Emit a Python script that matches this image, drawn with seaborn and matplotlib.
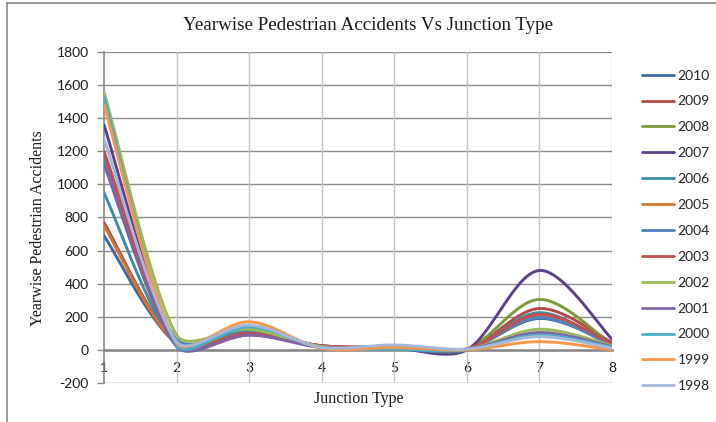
import numpy as np
import pandas as pd
import matplotlib
matplotlib.use("Agg")
import matplotlib.pyplot as plt
from matplotlib.lines import Line2D
import seaborn as sns

# Junction types on the category axis
junction_types = [1, 2, 3, 4, 5, 6, 7, 8]

# Pedestrian accidents per junction type, one list per year
years = ["2010", "2009", "2008", "2007", "2006", "2005", "2004",
         "2003", "2002", "2001", "2000", "1999", "1998"]
acc_2010 = [690, 40, 100, 20, 15, 5, 190, 35]
acc_2009 = [770, 45, 110, 25, 20, 5, 250, 45]
acc_2008 = [1160, 55, 120, 20, 15, 5, 305, 30]
acc_2007 = [1360, 30, 90, 25, 10, 0, 480, 65]
acc_2006 = [950, 30, 130, 20, 10, 0, 225, 20]
acc_2005 = [750, 40, 110, 15, 20, 5, 200, 25]
acc_2004 = [1150, 65, 115, 20, 20, 5, 195, 30]
acc_2003 = [1200, 40, 100, 25, 15, 5, 215, 40]
acc_2002 = [1560, 90, 125, 20, 20, 5, 125, 25]
acc_2001 = [1120, 20, 90, 15, 20, 5, 105, 20]
acc_2000 = [1525, 30, 140, 15, 5, 0, 90, 15]
acc_1999 = [1480, 45, 170, 10, 15, 0, 50, 0]
acc_1998 = [1275, 50, 150, 15, 30, 5, 80, 10]
series = [acc_2010, acc_2009, acc_2008, acc_2007, acc_2006, acc_2005, acc_2004,
          acc_2003, acc_2002, acc_2001, acc_2000, acc_1999, acc_1998]

colors = ["#3C68A3", "#B24A47", "#7A9A3A", "#5C4088", "#3A8EA8", "#D4772E",
          "#4F81BD", "#C0504D", "#9BBB59", "#8064A2", "#4BACC6", "#F79646",
          "#A5B8DA"]

y_ticks = [-200, 0, 200, 400, 600, 800, 1000, 1200, 1400, 1600, 1800]

# screen scale of one data unit (px) used for the smoothing weights
PX_PER_X = 508 / 7
PX_PER_Y = 331 / 2000


def smooth_curve(xs, ys, steps=30):
    """Bezier smoothing through every point; tangents shortened next to short chords."""
    pts = np.column_stack([xs, ys]).astype(float)
    scr = pts * np.array([PX_PER_X, PX_PER_Y])
    n = len(pts)
    out = []
    t = np.linspace(0, 1, steps)[:, None]
    for i in range(n - 1):
        a, b = max(i - 1, 0), min(i + 2, n - 1)
        p0, p1, p2, p3 = pts[a], pts[i], pts[i + 1], pts[b]
        d01 = np.linalg.norm(scr[i] - scr[a])
        d12 = np.linalg.norm(scr[i + 1] - scr[i])
        d23 = np.linalg.norm(scr[b] - scr[i + 1])
        w1 = min(1.0, 2 * d12 / (d01 + d12)) if d01 > 0 else 1.0
        w2 = min(1.0, 2 * d12 / (d12 + d23)) if d23 > 0 else 1.0
        c1 = p1 + (p2 - p0) / 6.0 * w1
        c2 = p2 - (p3 - p1) / 6.0 * w2
        seg = ((1 - t) ** 3) * p1 + 3 * ((1 - t) ** 2) * t * c1 \
            + 3 * (1 - t) * t ** 2 * c2 + t ** 3 * p2
        out.append(seg if i == 0 else seg[1:])
    return np.vstack(out)


rows = []
for year, vals in zip(years, series):
    curve = smooth_curve(junction_types, vals)
    for k, (cx, cy) in enumerate(curve):
        rows.append({"year": year, "order": k, "junction": cx, "accidents": cy})
df = pd.DataFrame(rows)

sns.set_theme(style="white")
plt.rcParams["font.family"] = ["Lato", "DejaVu Sans"]

fig = plt.figure(figsize=(7.16, 4.22), dpi=100)
ax = fig.add_axes([104 / 716, 1 - 383 / 422, 508 / 716, 331 / 422])

sns.lineplot(data=df, x="junction", y="accidents", hue="year",
             hue_order=years, palette=colors, estimator=None, sort=False,
             units="year", linewidth=2.1, ax=ax, legend=False, zorder=3)

ax.set_xlim(1, 8)
ax.set_ylim(-200, 1800)
ax.set_xticks(junction_types)
ax.set_yticks(y_ticks)
ax.set_xticklabels([str(j) for j in junction_types])
ax.set_yticklabels([str(v) for v in y_ticks])

# gridlines: darker horizontals, lighter verticals
for v in y_ticks:
    ax.axhline(v, color="#8C8C8C", lw=1.0, zorder=1)
for j in junction_types[1:]:
    ax.axvline(j, color="#C4C4C4", lw=1.0, zorder=1)

for side in ["top", "right"]:
    ax.spines[side].set_visible(False)
ax.spines["left"].set_color("#868686")
ax.spines["left"].set_linewidth(1.2)
ax.spines["bottom"].set_position(("data", 0))
ax.spines["bottom"].set_color("#868686")
ax.spines["bottom"].set_linewidth(1.8)
ax.spines["bottom"].set_zorder(2)

ax.tick_params(axis="y", which="both", left=True, length=5, width=1,
               color="#868686", pad=6, labelsize=10, labelcolor="#1a1a1a")
ax.tick_params(axis="x", which="both", bottom=False, length=0, pad=9,
               labelsize=10, labelcolor="#1a1a1a")
ax.set_xlabel("")
ax.set_ylabel("")

serif = ["Liberation Serif", "DejaVu Serif"]
fig.text(368 / 716, 1 - 26 / 422, "Yearwise Pedestrian Accidents Vs Junction Type",
         ha="center", va="center", fontsize=13.7, family=serif, color="#1a1a1a")
fig.text(38 / 716, 1 - 228 / 422, "Yearwise Pedestrian Accidents",
         ha="center", va="center", rotation=90, fontsize=11.5, family=serif,
         color="#1a1a1a")
fig.text(359 / 716, 1 - 399 / 422, "Junction Type", ha="center", va="center",
         fontsize=11.5, family=serif, color="#1a1a1a")

handles = [Line2D([0], [0], color=c, lw=2.0) for c in colors]
fig.legend(handles, years, loc="upper left",
           bbox_to_anchor=(636 / 716, 1 - 64 / 422), frameon=False,
           fontsize=10, handlelength=2.3, handletextpad=0.3,
           labelspacing=1.0, borderaxespad=0)

# outer chart frame
fig.add_artist(Line2D([7 / 716, 7 / 716], [-0.1, 1 - 3 / 422],
                      transform=fig.transFigure, color="#878787", lw=1.2))
fig.add_artist(Line2D([7 / 716, 1.1], [1 - 3 / 422, 1 - 3 / 422],
                      transform=fig.transFigure, color="#878787", lw=1.2))

fig.savefig("out.png", dpi=100, facecolor="white")
